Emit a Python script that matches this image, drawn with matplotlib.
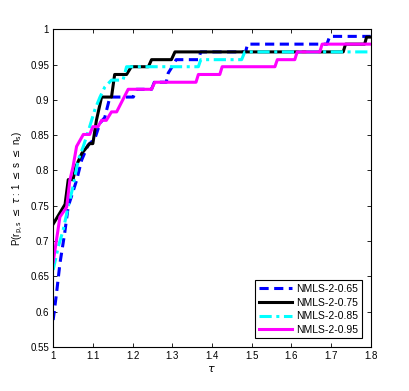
import numpy as np
import matplotlib.pyplot as plt

plt.rcParams['font.family'] = ['Liberation Sans', 'DejaVu Sans']

# performance profiles
tau_65 = [1.0, 1.0085, 1.017, 1.029, 1.038, 1.05, 1.059, 1.072, 1.088, 1.105, 1.118, 1.13, 1.143,
          1.202, 1.21, 1.248, 1.255, 1.285, 1.29, 1.30, 1.31, 1.366, 1.372, 1.485, 1.49, 1.69, 1.697, 1.8]
p_65 = [0.588, 0.626, 0.668, 0.711, 0.749, 0.77, 0.786, 0.815, 0.836, 0.845, 0.867, 0.875, 0.904,
        0.904, 0.915, 0.915, 0.925, 0.925, 0.938, 0.947, 0.957, 0.957, 0.968, 0.968, 0.979, 0.979, 0.990, 0.990]

tau_75 = [1.0, 1.03, 1.038, 1.05, 1.057, 1.072, 1.092, 1.10, 1.109, 1.122, 1.147, 1.155, 1.185, 1.197,
          1.24, 1.248, 1.298, 1.307, 1.731, 1.737, 1.785, 1.79, 1.8]
p_75 = [0.724, 0.752, 0.787, 0.787, 0.805, 0.824, 0.838, 0.838, 0.871, 0.904, 0.904, 0.936, 0.936, 0.947,
        0.947, 0.957, 0.957, 0.968, 0.968, 0.979, 0.979, 0.989, 0.989]

tau_85 = [1.0, 1.013, 1.025, 1.038, 1.05, 1.063, 1.076, 1.092, 1.105, 1.118, 1.13, 1.147, 1.176, 1.185,
          1.366, 1.372, 1.475, 1.483, 1.8]
p_85 = [0.659, 0.692, 0.715, 0.749, 0.777, 0.815, 0.834, 0.862, 0.886, 0.904, 0.918, 0.928, 0.928, 0.947,
        0.947, 0.957, 0.957, 0.968, 0.968]

tau_95 = [1.0, 1.017, 1.034, 1.042, 1.05, 1.059, 1.076, 1.092, 1.10, 1.113, 1.122, 1.134, 1.147, 1.16,
          1.189, 1.248, 1.256, 1.36, 1.366, 1.42, 1.426, 1.559, 1.565, 1.609, 1.615, 1.672, 1.678, 1.8]
p_95 = [0.670, 0.734, 0.748, 0.786, 0.805, 0.834, 0.851, 0.851, 0.862, 0.862, 0.871, 0.871, 0.883, 0.883,
        0.915, 0.915, 0.925, 0.925, 0.936, 0.936, 0.947, 0.947, 0.957, 0.957, 0.968, 0.968, 0.979, 0.979]

labels = ['NMLS-2-0.65', 'NMLS-2-0.75', 'NMLS-2-0.85', 'NMLS-2-0.95']

fig = plt.figure(figsize=(4.09, 3.91), dpi=100)
ax = fig.add_axes([0.130, 0.113, 0.776, 0.812])

ax.plot(tau_65, p_65, color='#0000ff', lw=2.2, ls=(0, (3, 1.8)), label=labels[0])
ax.plot(tau_75, p_75, color='black', lw=2.2, ls='-', label=labels[1])
ax.plot(tau_85, p_85, color='#00ffff', lw=2.2, ls=(0, (4, 1.5, 1, 1.5)), label=labels[2])
ax.plot(tau_95, p_95, color='#ff00ff', lw=2.2, ls='-', label=labels[3])

ax.set_xlim(1, 1.8)
ax.set_ylim(0.55, 1)
ax.set_xticks(np.arange(1, 1.81, 0.1))
ax.set_xticklabels(['1', '1.1', '1.2', '1.3', '1.4', '1.5', '1.6', '1.7', '1.8'])
ax.set_yticks(np.arange(0.55, 1.001, 0.05))
ax.set_yticklabels(['0.55', '0.6', '0.65', '0.7', '0.75', '0.8', '0.85', '0.9', '0.95', '1'])
ax.tick_params(direction='in', top=True, right=True, labelsize=7, length=3, width=0.6, pad=3)
for s in ax.spines.values():
    s.set_linewidth(0.8)

ax.set_xlabel(r'$\tau$', fontsize=8, labelpad=2)
ax.set_ylabel(r'P(r$_{\mathrm{p,s}}$ $\leq$ $\tau$ : 1 $\leq$ s $\leq$ n$_{\mathrm{s}}$)', fontsize=7, labelpad=4)

leg = ax.legend(loc='lower right', fontsize=7.5, handlelength=3.2, borderaxespad=0.8,
                fancybox=False, framealpha=1, edgecolor='black', labelspacing=0.35,
                handletextpad=0.4, borderpad=0.35)
leg.get_frame().set_linewidth(0.8)

fig.savefig('out.png', dpi=100)
